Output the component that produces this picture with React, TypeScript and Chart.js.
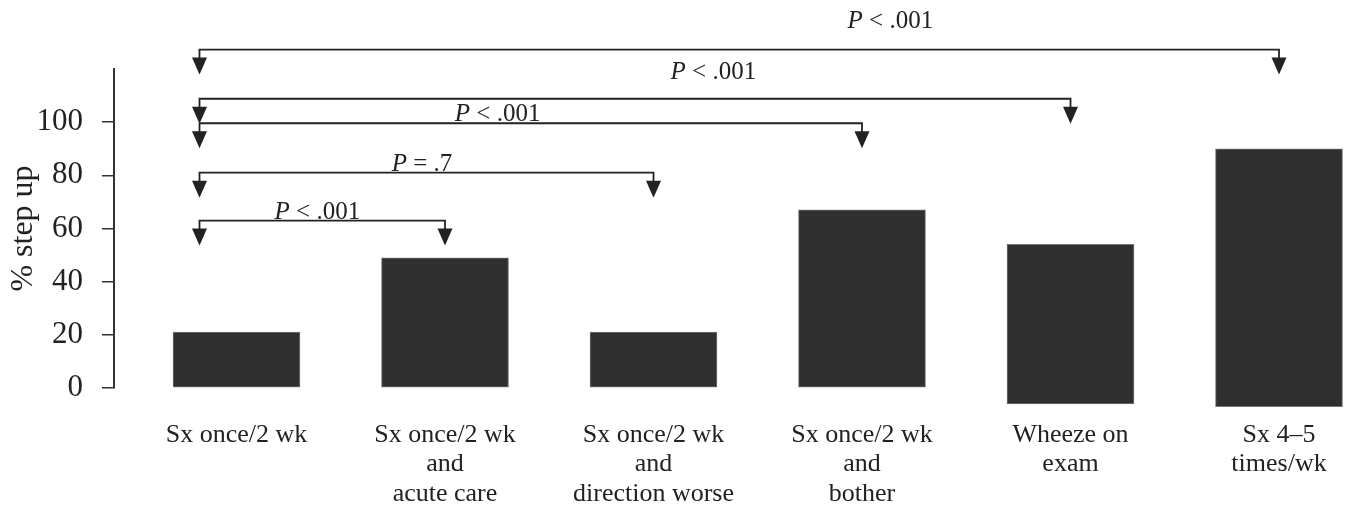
import React, { useEffect, useRef } from 'react';
import { Chart, registerables } from 'chart.js';

Chart.register(...registerables);

// ---------- data ----------
const CATEGORIES: string[][] = [
  ['Sx once/2 wk'],
  ['Sx once/2 wk', 'and', 'acute care'],
  ['Sx once/2 wk', 'and', 'direction worse'],
  ['Sx once/2 wk', 'and', 'bother'],
  ['Wheeze on', 'exam'],
  ['Sx 4–5', 'times/wk'],
];
const BAR_LOW = [0, 0, 0, 0, -6, -7];
const BAR_HIGH = [21, 49, 21, 67, 54, 90];
const Y_TICKS = [0, 20, 40, 60, 80, 100];
const Y_TITLE = '% step up';

// pairwise comparisons (category index from -> to), bracket level in y units, P text
const CMP_FROM = [0, 0, 0, 0, 0];
const CMP_TO = [1, 2, 3, 4, 5];
const CMP_LEVEL = [63, 81, 99.6, 108.8, 127.3];
const CMP_P = ['< .001', '= .7', '< .001', '< .001', '< .001'];

// ---------- style ----------
const SERIF = '"Liberation Serif", "Times New Roman", Times, serif';
const INK = '#222222';
const BAR_FILL = '#2f2f2f';
const LABEL_POS = [0.48, 0.49, 0.45, 0.59, 0.64];
const LABEL_LIFT = [2, 2, 2, 20, 22];
const LEFT_INSET = -37;
const Y_AXIS_WIDTH = 114;
const X_AXIS_HEIGHT = 120;

const bracketPlugin = {
  id: 'brackets',
  afterDraw(chart: any) {
    const { ctx } = chart;
    const xs = chart.scales.x;
    const ys = chart.scales.y;
    ctx.save();
    ctx.strokeStyle = INK;
    ctx.fillStyle = INK;
    ctx.lineWidth = 1.8;
    ctx.lineJoin = 'miter';
    const head = (px: number, py: number) => {
      ctx.beginPath();
      ctx.moveTo(px - 7.5, py + 8);
      ctx.lineTo(px + 7.5, py + 8);
      ctx.lineTo(px, py + 25);
      ctx.closePath();
      ctx.fill();
    };
    CMP_FROM.forEach((from, k) => {
      const x1 = xs.getPixelForValue(from) + LEFT_INSET;
      const x2 = xs.getPixelForValue(CMP_TO[k]);
      const py = ys.getPixelForValue(CMP_LEVEL[k]);
      ctx.beginPath();
      ctx.moveTo(x1, py + 9);
      ctx.lineTo(x1, py);
      ctx.lineTo(x2, py);
      ctx.lineTo(x2, py + 9);
      ctx.stroke();
      head(x1, py);
      head(x2, py);
      const cx = x1 + (x2 - x1) * LABEL_POS[k];
      const by = py - LABEL_LIFT[k];
      const rest = ' ' + CMP_P[k];
      ctx.font = `italic 25px ${SERIF}`;
      const wP = ctx.measureText('P').width;
      ctx.font = `25px ${SERIF}`;
      const wR = ctx.measureText(rest).width;
      const sx = cx - (wP + wR) / 2;
      ctx.textAlign = 'left';
      ctx.textBaseline = 'alphabetic';
      ctx.font = `italic 25px ${SERIF}`;
      ctx.fillText('P', sx, by);
      ctx.font = `25px ${SERIF}`;
      ctx.fillText(rest, sx + wP, by);
    });
    ctx.restore();
  },
};

export default function App() {
  const ref = useRef<HTMLCanvasElement>(null);
  useEffect(() => {
    if (!ref.current) return;
    const chart = new Chart(ref.current, {
      type: 'bar',
      data: {
        datasets: [
          {
            data: BAR_HIGH.map((hi, i) => ({ x: i, y: [BAR_LOW[i], hi] })) as any,
            backgroundColor: BAR_FILL,
            borderColor: '#777777',
            borderWidth: 1,
            borderSkipped: false,
            barThickness: 127,
            clip: false as any,
          },
        ],
      },
      options: {
        responsive: false,
        animation: false,
        layout: { padding: { left: 0, right: 0, top: 69, bottom: 0 } },
        plugins: {
          legend: { display: false },
          tooltip: { enabled: false },
          title: { display: false },
        },
        scales: {
          x: {
            type: 'linear',
            offset: false,
            min: -0.5875,
            max: 5.3165,
            grid: {
              display: true,
              offset: false,
              drawOnChartArea: false,
              drawTicks: true,
              tickLength: 16,
              color: 'rgba(0,0,0,0)',
            },
            border: { display: false },
            afterBuildTicks: (s: any) => {
              s.ticks = CATEGORIES.map((_, i) => ({ value: i }));
            },
            afterFit: (s: any) => {
              s.height = X_AXIS_HEIGHT;
              s.paddingLeft = 0;
              s.paddingRight = 0;
            },
            ticks: {
              autoSkip: false,
              maxRotation: 0,
              minRotation: 0,
              padding: 16,
              color: INK,
              font: { family: SERIF, size: 26, lineHeight: '29.5px' as any },
              callback: (v: any) => CATEGORIES[v as number] as any,
            },
          },
          y: {
            type: 'linear',
            min: 0,
            max: 120,
            afterBuildTicks: (s: any) => {
              s.ticks = Y_TICKS.map((v) => ({ value: v }));
            },
            afterFit: (s: any) => {
              s.width = Y_AXIS_WIDTH;
              s.paddingTop = 0;
              s.paddingBottom = 0;
            },
            grid: {
              drawOnChartArea: false,
              drawTicks: true,
              tickLength: 12,
              color: '#333333',
              lineWidth: 1.5,
            },
            border: { display: true, color: '#333333', width: 2 },
            ticks: {
              padding: 19,
              color: INK,
              font: { family: SERIF, size: 31 },
              callback: (v: any) => String(v),
            },
            title: {
              display: true,
              text: Y_TITLE,
              color: INK,
              font: { family: SERIF, size: 32, lineHeight: 1 },
              padding: { top: 8, bottom: 0 },
            },
          },
        },
      },
      plugins: [bracketPlugin],
    });
    return () => chart.destroy();
  }, []);
  return (
    <div
      style={{
        position: 'fixed',
        left: 0,
        top: 0,
        width: 1345,
        height: 508,
        overflow: 'hidden',
        background: '#ffffff',
      }}
    >
      <canvas ref={ref} width={1345} height={508} style={{ display: 'block' }} />
    </div>
  );
}
